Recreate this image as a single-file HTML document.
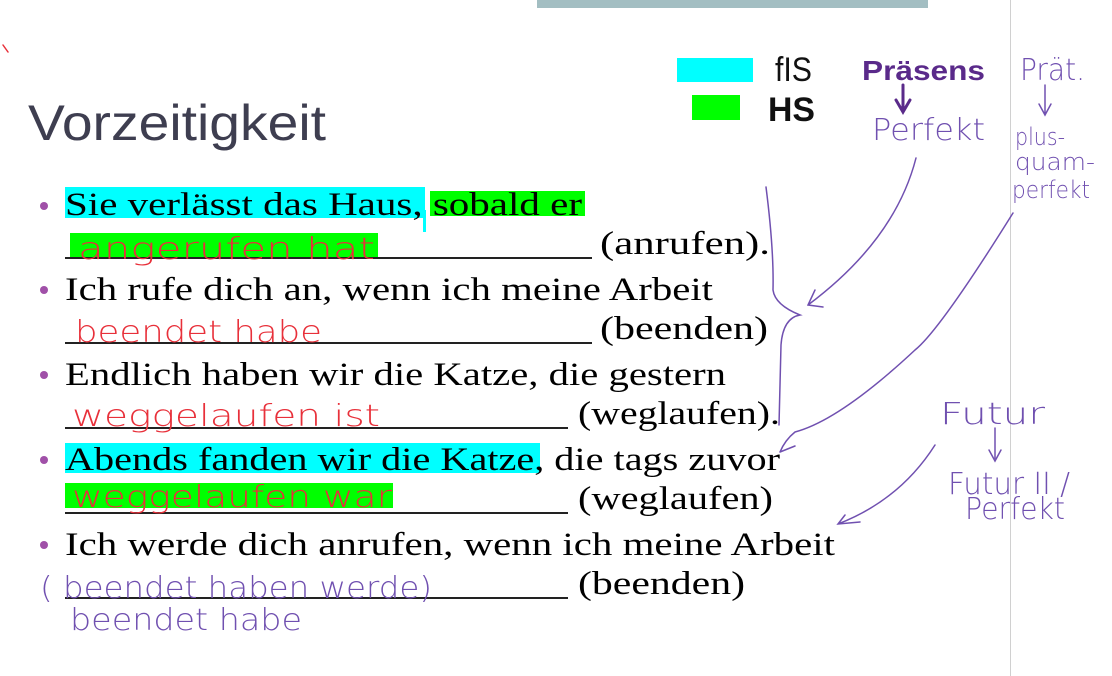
<!DOCTYPE html>
<html><head><meta charset="utf-8"><style>
html,body{margin:0;padding:0;background:#fff;width:1112px;height:676px;overflow:hidden}
svg{position:absolute;left:0;top:0}
.t{font-family:"Liberation Serif",serif;font-size:33px;fill:#000}
.h{font-family:"DejaVu Sans","Liberation Sans",sans-serif;font-weight:200}
</style></head><body>
<svg width="1112" height="676" viewBox="0 0 1112 676">
<rect x="537" y="0" width="391" height="8" fill="#a3bec2"/>
<line x1="1010.5" y1="0" x2="1010.5" y2="676" stroke="#d0d0d0" stroke-width="1"/>
<text x="28" y="140" font-family="Liberation Sans,sans-serif" font-size="50" fill="#3e3e50" textLength="298" lengthAdjust="spacingAndGlyphs">Vorzeitigkeit</text>
<!-- highlights -->
<rect x="65" y="187" width="360" height="31" fill="#00ffff"/>
<rect x="430" y="191" width="155" height="25" fill="#00ff00"/>
<rect x="70" y="233" width="308" height="25" fill="#00ff00"/>
<rect x="65" y="443" width="475" height="30" fill="#00ffff"/>
<rect x="65" y="483" width="328" height="25" fill="#00ff00"/>
<rect x="677" y="58" width="76" height="24" fill="#00ffff"/>
<rect x="692" y="95" width="48" height="25" fill="#00ff00"/>
<rect x="423" y="210" width="3" height="22" fill="#00ffff"/>
<!-- bullets -->
<g fill="#a050a8">
<circle cx="44" cy="206" r="4"/><circle cx="44" cy="290" r="4"/><circle cx="44" cy="375" r="4"/><circle cx="44" cy="460" r="4"/><circle cx="44" cy="545" r="4"/>
</g>
<!-- underscores -->
<g stroke="#222" stroke-width="2">
<line x1="65" y1="258" x2="592" y2="258"/>
<line x1="65" y1="343" x2="592" y2="343"/>
<line x1="65" y1="428" x2="568" y2="428"/>
<line x1="65" y1="513" x2="568" y2="513"/>
<line x1="65" y1="598" x2="568" y2="598"/>
</g>
<text class="t" x="65" y="215" textLength="517" lengthAdjust="spacingAndGlyphs">Sie verlässt das Haus, sobald er</text>
<text class="t" x="600" y="254" textLength="170" lengthAdjust="spacingAndGlyphs">(anrufen).</text>
<text class="t" x="65" y="300" textLength="648" lengthAdjust="spacingAndGlyphs">Ich rufe dich an, wenn ich meine Arbeit</text>
<text class="t" x="600" y="339" textLength="168" lengthAdjust="spacingAndGlyphs">(beenden)</text>
<text class="t" x="65" y="385" textLength="661" lengthAdjust="spacingAndGlyphs">Endlich haben wir die Katze, die gestern</text>
<text class="t" x="578" y="424" textLength="202" lengthAdjust="spacingAndGlyphs">(weglaufen).</text>
<text class="t" x="65" y="470" textLength="715" lengthAdjust="spacingAndGlyphs">Abends fanden wir die Katze, die tags zuvor</text>
<text class="t" x="578" y="509" textLength="195" lengthAdjust="spacingAndGlyphs">(weglaufen)</text>
<text class="t" x="65" y="555" textLength="770" lengthAdjust="spacingAndGlyphs">Ich werde dich anrufen, wenn ich meine Arbeit</text>
<text class="t" x="578" y="594" textLength="167" lengthAdjust="spacingAndGlyphs">(beenden)</text>
<!-- red handwriting -->
<g class="h" fill="#e8303a" font-size="30">
<text x="78" y="259" textLength="297" lengthAdjust="spacingAndGlyphs">angerufen  hat</text>
<text x="75" y="342" textLength="247" lengthAdjust="spacingAndGlyphs">beendet habe</text>
<text x="72" y="426" textLength="308" lengthAdjust="spacingAndGlyphs">weggelaufen  ist</text>
<text x="72" y="507" textLength="320" lengthAdjust="spacingAndGlyphs">weggelaufen  war</text>
</g>
<!-- purple handwriting -->
<g class="h" fill="#7050b0" font-size="30">
<text x="40" y="598" textLength="392" lengthAdjust="spacingAndGlyphs">( beendet haben werde)</text>
<text x="70" y="630" textLength="232" lengthAdjust="spacingAndGlyphs">beendet habe</text>
<text x="872" y="140" textLength="113" lengthAdjust="spacingAndGlyphs">Perfekt</text>
<text x="1020" y="80" textLength="65" lengthAdjust="spacingAndGlyphs">Prät.</text>
<text x="1015" y="145" font-size="24" textLength="50" lengthAdjust="spacingAndGlyphs">plus-</text>
<text x="1015" y="170" font-size="24" textLength="80" lengthAdjust="spacingAndGlyphs">quam-</text>
<text x="1012" y="198" font-size="24" textLength="78" lengthAdjust="spacingAndGlyphs">perfekt</text>
<text x="940" y="424" textLength="105" lengthAdjust="spacingAndGlyphs">Futur</text>
<text x="948" y="494" textLength="122" lengthAdjust="spacingAndGlyphs">Futur II /</text>
<text x="965" y="519" textLength="100" lengthAdjust="spacingAndGlyphs">Perfekt</text>
</g>
<text x="862" y="80" font-family="Liberation Sans,sans-serif" font-weight="bold" font-size="28" fill="#5a2a8a" textLength="123" lengthAdjust="spacingAndGlyphs">Präsens</text>
<g font-family="Liberation Sans,sans-serif" font-size="34" fill="#111">
<text x="775" y="81" textLength="37" lengthAdjust="spacingAndGlyphs">fIS</text>
<text x="768" y="121" font-weight="bold" textLength="47" lengthAdjust="spacingAndGlyphs">HS</text>
</g>
<!-- strokes -->
<g fill="none" stroke="#7050b0" stroke-width="1.5" stroke-linecap="round">
<path d="M903 85 L903 110 M896 100 L903 112 L910 100" stroke="#5a2a8a" stroke-width="3"/>
<path d="M1045 85 L1045 113 M1039 104 L1045 115 L1051 104"/>
<path d="M995 428 L995 458 M989 450 L995 461 L1001 450"/>
<path d="M766 187 Q774 250 773 290 Q775 305 800 315 Q783 318 781 345 L779 425"/>
<path d="M916 158 Q895 240 808 305 M815 290 L808 305 L823 307"/>
<path d="M1013 213 Q940 330 915 350 Q840 420 795 432 Q785 440 780 452 M780 452 L795 446"/>
<path d="M935 445 Q900 500 838 524 M845 515 L838 524 L860 522"/>
<path d="M3 45 L8 52" stroke="#e8303a"/>
</g>
</svg>
</body></html>
